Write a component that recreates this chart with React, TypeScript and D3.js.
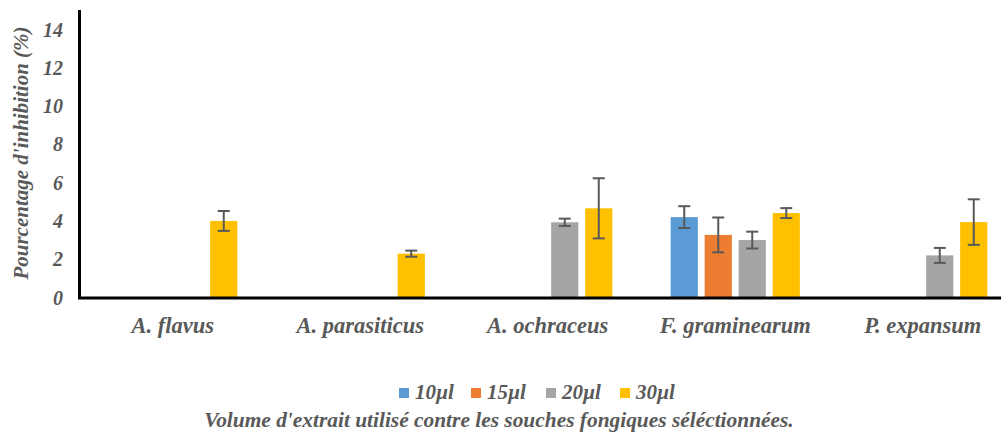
import React from "react";
import * as d3 from "d3";

const categories = ["A. flavus", "A. parasiticus", "A. ochraceus", "F. graminearum", "P. expansum"];
const seriesNames = ["10µl", "15µl", "20µl", "30µl"];
const colors = ["#5B9BD5", "#ED7D31", "#A5A5A5", "#FFC000"];
// values per series, per category (null = no bar)
const values10 = [null, null, null, 4.2, null];
const values15 = [null, null, null, 3.27, null];
const values20 = [null, null, 3.93, 3.0, 2.2];
const values30 = [4.0, 2.29, 4.66, 4.41, 3.94];
const err10 = [0, 0, 0, 0.57, 0];
const err15 = [0, 0, 0, 0.91, 0];
const err20 = [0, 0, 0.19, 0.44, 0.39];
const err30 = [0.52, 0.16, 1.57, 0.26, 1.19];
const yTicks = [0, 2, 4, 6, 8, 10, 12, 14];

const allValues = [values10, values15, values20, values30];
const allErrors = [err10, err15, err20, err30];

const grey = "#595959";

export default function App() {
  const width = 1001;
  const height = 436;
  const x0 = 79;
  const yBase = 297.5;

  const y = d3.scaleLinear().domain([0, 15]).range([yBase, yBase - 15 * 19.14]);
  const x = d3.scaleBand().domain(categories).range([x0, x0 + 937.5]);
  const xs = d3.scaleBand().domain(seriesNames).range([-68, 68]).paddingInner(0.2).paddingOuter(0.1);

  const legendX = [399, 471, 546, 620];

  return (
    <svg width={width} height={height}
      style={{ position: "absolute", left: 0, top: 0, fontFamily: "'Times New Roman', 'Liberation Serif', serif", fontStyle: "italic", fontWeight: 700 }}>
      <rect width={width} height={height} fill="#fff" />
      {/* bars */}
      {seriesNames.map((s, si) =>
        categories.map((c, ci) => {
          const v = allValues[si][ci];
          if (v == null) return null;
          const cx = (x(c) as number) + x.bandwidth() / 2;
          const bx = cx + (xs(s) as number);
          const e = allErrors[si][ci];
          const mx = bx + xs.bandwidth() / 2;
          return (
            <g key={s + c}>
              <rect x={bx} y={y(v)} width={xs.bandwidth()} height={yBase - y(v)} fill={colors[si]} />
              <line x1={mx} x2={mx} y1={y(v + e)} y2={y(v - e)} stroke={grey} strokeWidth={2} />
              <line x1={mx - 6} x2={mx + 6} y1={y(v + e)} y2={y(v + e)} stroke={grey} strokeWidth={2} />
              <line x1={mx - 6} x2={mx + 6} y1={y(v - e)} y2={y(v - e)} stroke={grey} strokeWidth={2} />
            </g>
          );
        })
      )}
      {/* axes */}
      <line x1={79.5} x2={79.5} y1={10} y2={299} stroke="#000" strokeWidth={3} />
      <line x1={78} x2={1001} y1={298} y2={298} stroke="#000" strokeWidth={3} />
      {yTicks.map((t) => (
        <text key={t} x={63} y={y(t) + 7} textAnchor="end" fontSize={20} fill={grey}>{t}</text>
      ))}
      <text transform="translate(28,153) rotate(-90)" textAnchor="middle" fontSize={21} fill={grey}>
        Pourcentage d'inhibition (%)
      </text>
      {categories.map((c) => (
        <text key={c} x={(x(c) as number) + x.bandwidth() / 2} y={333} textAnchor="middle" fontSize={22.5} fill={grey}>{c}</text>
      ))}
      {/* legend */}
      {seriesNames.map((s, i) => (
        <g key={s}>
          <rect x={legendX[i]} y={388} width={10} height={10} fill={colors[i]} />
          <text x={legendX[i] + 16} y={399} fontSize={21} fill={grey}>{s}</text>
        </g>
      ))}
      <text x={499} y={427} textAnchor="middle" fontSize={21.4} fill={grey}>
        Volume d'extrait utilisé contre les souches fongiques séléctionnées.
      </text>
    </svg>
  );
}
